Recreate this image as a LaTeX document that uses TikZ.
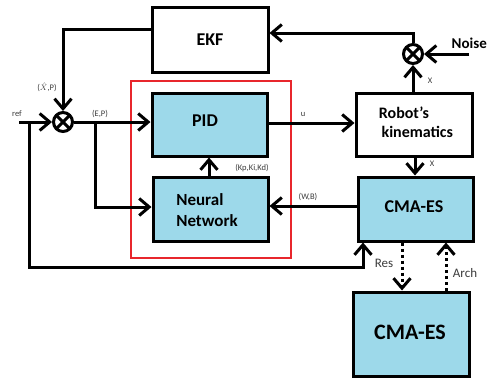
\documentclass[tikz,border=0pt]{standalone}
\usepackage{fontspec}
\setmainfont{Carlito}
\usetikzlibrary{arrows.meta}
\definecolor{boxblue}{RGB}{157,217,234}
\definecolor{frame}{RGB}{232,38,44}
\definecolor{lblgray}{RGB}{60,60,60}
\begin{document}
\begin{tikzpicture}[x=1pt,y=-1pt,
  blk/.style={draw, line width=3pt, inner sep=0pt},
  bluebox/.style={blk, fill=boxblue},
  bigtxt/.style={font=\fontsize{18}{21}\selectfont\bfseries},
  lbl/.style={font=\fontsize{8.5}{10}\selectfont, text=lblgray, inner sep=0pt},
  midlbl/.style={font=\fontsize{13}{15}\selectfont, text=lblgray, inner sep=0pt},
  arr/.style={line width=3pt, -{Straight Barb[length=10pt,width=17pt,line width=3pt]}},
  darr/.style={arr, dash pattern=on 3pt off 3pt},
  sumnode/.style={circle, draw, line width=3pt, minimum size=19pt, inner sep=0pt,
    path picture={\draw[line width=3pt] (path picture bounding box.north west) -- (path picture bounding box.south east)
      (path picture bounding box.north east) -- (path picture bounding box.south west);}}
]
\useasboundingbox[fill=white] (0,0) rectangle (487,378);

% group frame
\node[draw=frame, line width=2pt, minimum width=160, minimum height=177, inner sep=0pt] (grp) at (211,169.5) {};

% blocks
\node[blk, minimum width=116, minimum height=65, bigtxt] (EKF) at (210,39.5) {EKF};
\node[bluebox, minimum width=115, minimum height=63] (PID) at (209.5,124.5) {};
\node[bigtxt] (PIDt) at (205,121) {PID};
\node[bluebox, minimum width=115, minimum height=64] (NN) at (210.5,209) {};
\node[bigtxt, align=left, font=\fontsize{17}{21}\selectfont\bfseries] (NNt) at (207,210.5) {Neural\\Network};
\node[blk, minimum width=116, minimum height=63] (Robot) at (414,124.5) {};
\node[bigtxt, align=left, font=\fontsize{16}{19}\selectfont\bfseries] (Robott) at (416,122.5) {Robot's\\\,kinematics};
\node[bluebox, minimum width=115, minimum height=64] (CMA) at (415.5,209) {};
\node[bigtxt] (CMAt) at (414,207) {CMA-ES};
\node[bluebox, minimum width=116, minimum height=84] (CMAB) at (411,334) {};
\node[font=\fontsize{22}{24}\selectfont\bfseries] (CMABt) at (410,332) {CMA-ES};

% summing junctions
\node[sumnode] (sumL) at (63,122) {};
\node[sumnode] (sumR) at (413,54) {};

% noise
\node[font=\fontsize{15}{18}\selectfont\bfseries, anchor=east, inner sep=0pt] (noise) at (487,43) {Noise};
\coordinate (noiseo) at (469,54);

% connectors
\coordinate (refin) at (19,122);
\coordinate (fb) at (29,122);
\coordinate (br) at (95,122);
\draw[arr] (refin) -- (sumL.west);
\draw[arr] (EKF.west |- 0,29) -| (sumL.north);
\draw[arr] (sumL.east) -- (PID.west |- sumL.east);
\draw[arr] (br) |- (NN.west |- 0,207);
\draw[arr] (PID.east |- 0,123) -- (Robot.west |- 0,123);
\draw[arr] (NN.north -| 209,0) -- (PID.south -| 209,0);
\draw[arr] (CMA.west |- 0,206) -- (NN.east |- 0,206);
\draw[arr] (Robot.south -| 415,0) -- (CMA.north -| 415,0);
\draw[arr] (Robot.north -| sumR) -- (sumR.south);
\draw[arr] (sumR.north) |- (EKF.east |- 0,33);
\draw[arr] (noiseo) -- (sumR.east);
\draw[arr] (fb) -- (29,267) -| (CMA.south -| 363,0);
\draw[darr] (CMA.south -| 402,0) -- (CMAB.north -| 402,0);
\draw[darr] (CMAB.north -| 446,0) -- (CMA.south -| 446,0);

% labels
\node[lbl] (lref) at (17,114) {ref};
\node[lbl] (lxp) at (47,87) {($\hat{X}$,P)};
\node[lbl] (lep) at (100,114) {(E,P)};
\node[lbl] (lu) at (303,114) {u};
\node[lbl] (lk) at (252,168) {(Kp,Ki,Kd)};
\node[lbl] (lwb) at (308,197) {(W,B)};
\node[lbl] (lx1) at (430,81) {X};
\node[lbl] (lx2) at (432,164) {X};
\node[midlbl] (lres) at (384,263) {Res};
\node[midlbl] (larch) at (465,273) {Arch};
\end{tikzpicture}
\end{document}
